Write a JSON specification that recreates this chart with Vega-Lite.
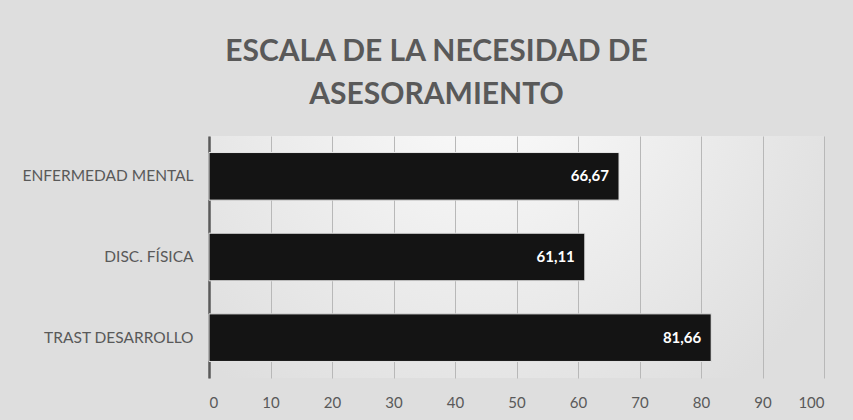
{
  "$schema": "https://vega.github.io/schema/vega-lite/v6.json",
  "width": 615,
  "height": 242,
  "autosize": {"type": "none"},
  "padding": {"left": 209, "top": 136, "right": 29, "bottom": 42},
  "background": "#dedede",
  "title": {
    "text": ["ESCALA DE LA NECESIDAD DE", "ASESORAMIENTO"],
    "font": "Lato",
    "fontSize": 30,
    "fontWeight": "bold",
    "color": "#595959",
    "lineHeight": 43,
    "anchor": "middle",
    "dx": -80,
    "offset": 26
  },
  "config": {
    "locale": {"number": {"decimal": ",", "thousands": ".", "grouping": [3], "currency": ["", " €"]}},
    "view": {
      "stroke": null,
      "fill": {
        "gradient": "radial",
        "x1": 0.45, "y1": 0.2, "x2": 0.45, "y2": 0.2,
        "r1": 0, "r2": 0.65,
        "stops": [{"offset": 0, "color": "#fcfcfc"}, {"offset": 1, "color": "#dedede"}]
      }
    },
    "font": "Lato"
  },
  "data": {
    "values": [
      {"categoria": "ENFERMEDAD MENTAL", "valor": 66.67},
      {"categoria": "DISC. FÍSICA", "valor": 61.11},
      {"categoria": "TRAST DESARROLLO", "valor": 81.66}
    ]
  },
  "encoding": {
    "y": {
      "field": "categoria",
      "type": "nominal",
      "sort": null,
      "scale": {"paddingInner": 0.41, "paddingOuter": 0.205},
      "axis": {
        "title": null,
        "ticks": false,
        "domainColor": "#595959",
        "domainWidth": 2.5,
        "labelColor": "#595959",
        "labelFontSize": 15.5,
        "labelFont": "Lato",
        "labelPadding": 16
      }
    },
    "x": {
      "field": "valor",
      "type": "quantitative",
      "scale": {"domain": [0, 100], "nice": false},
      "axis": {
        "title": null,
        "values": [0, 10, 20, 30, 40, 50, 60, 70, 80, 90, 100],
        "domain": false,
        "ticks": false,
        "gridColor": "#b8b8b8",
        "gridWidth": 1,
        "labelColor": "#595959",
        "labelFontSize": 15,
        "labelFont": "Lato",
        "labelPadding": 17
      }
    }
  },
  "layer": [
    {
      "mark": {"type": "bar", "color": "#141414", "stroke": "#e6e6e6", "strokeWidth": 1}
    },
    {
      "mark": {"type": "text", "align": "right", "baseline": "middle", "dx": -10, "color": "white", "fontWeight": "bold", "fontSize": 15, "font": "Lato"},
      "encoding": {
        "text": {"field": "valor", "type": "quantitative", "format": ".2f"}
      }
    }
  ]
}
